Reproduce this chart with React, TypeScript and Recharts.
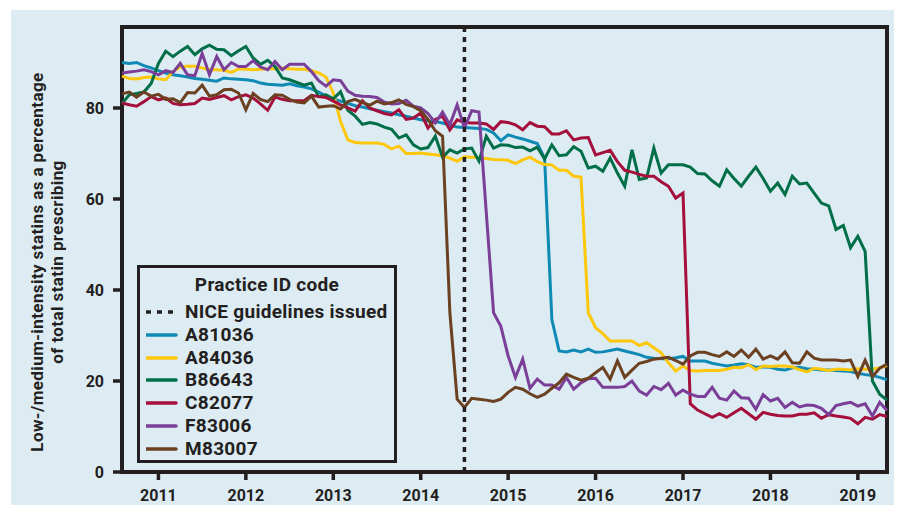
import React from 'react';
import { LineChart, Line, XAxis, YAxis, ReferenceArea, ReferenceLine } from 'recharts';

/* ------------------------------------------------------------------ */
/*  Data: monthly share, Aug 2010 .. May 2019                          */
/* ------------------------------------------------------------------ */

const START = 2010 + 7 / 12; // Aug 2010
const END = 2019 + 4 / 12; // May 2019
const YEAR_TICKS = [2011, 2012, 2013, 2014, 2015, 2016, 2017, 2018, 2019];
const PCT_TICKS = [0, 20, 40, 60, 80];
const Y_MAX = 97.8;
const NICE_DATE = 2014.5;

const A81036 = [
  90.0, 89.8, 90.0, 89.3, 88.8, 88.2, 87.7, 87.3, 87.1, 86.8,
  86.5, 86.3, 86.1, 85.9, 86.6, 86.4, 86.3, 86.2, 86.0, 85.5,
  85.2, 85.1, 85.0, 85.3, 84.9, 84.6, 84.2, 83.5, 82.6, 82.0,
  81.5, 81.0, 80.5, 80.2, 79.8, 79.5, 79.2, 78.9, 78.5, 78.2,
  77.8, 77.4, 77.2, 77.0, 76.7, 76.2, 75.8, 75.7, 75.6, 75.5,
  75.3, 74.5, 72.8, 74.1, 73.6, 73.2, 72.7, 72.2, 69.0, 33.5,
  26.6, 26.4, 26.8, 26.4, 27.0, 26.3, 26.4, 26.7, 27.0, 26.6,
  26.2, 25.8, 25.2, 25.0, 24.9, 24.9, 25.1, 25.4, 24.4, 24.4,
  24.4, 23.9, 23.6, 23.3, 23.5, 23.8, 23.6, 23.0, 23.1, 23.0,
  22.6, 22.4, 22.9, 23.0, 22.7, 22.6, 22.4, 22.4, 22.3, 22.2,
  22.1, 21.7, 21.4, 21.2, 20.8, 20.3,
];

const A84036 = [
  87.0, 86.5, 86.4, 86.7, 86.8, 86.4, 86.2, 88.0, 89.0, 89.2,
  89.2, 88.8, 88.4, 88.4, 88.3, 87.8, 88.6, 88.5, 88.4, 88.5,
  88.6, 88.6, 88.8, 88.6, 88.5, 88.5, 88.2, 87.7, 86.8, 83.3,
  77.0, 73.0, 72.4, 72.3, 72.3, 72.3, 72.0, 71.0, 71.6, 70.0,
  70.0, 70.1, 69.9, 69.7, 69.5, 69.0, 68.3, 69.3, 69.2, 69.0,
  68.9, 68.7, 68.6, 68.5, 67.8, 68.6, 69.2, 68.2, 67.6, 67.5,
  66.3, 66.3, 65.0, 64.8, 35.0, 31.7, 30.4, 28.8, 28.8, 28.8,
  28.8, 27.8, 28.4, 27.3, 26.2, 24.0, 22.2, 23.3, 22.3, 22.2,
  22.3, 22.3, 22.3, 22.6, 23.0, 22.9, 23.6, 22.5, 23.3, 23.2,
  23.3, 23.3, 23.1, 22.5, 22.0, 22.8, 22.6, 22.3, 22.6, 22.6,
  22.4, 22.7, 22.6, 22.6, 22.9, 23.4,
];

const B86643 = [
  81.0, 82.9, 83.2, 83.5, 85.4, 89.8, 92.5, 91.3, 92.5, 93.5,
  91.7, 93.0, 93.8, 92.9, 92.8, 91.5, 92.6, 93.5, 91.0, 89.6,
  90.5, 89.1, 86.6, 86.2, 85.6, 85.0, 85.5, 82.5, 82.9, 82.0,
  83.6, 79.5, 78.2, 76.4, 76.8, 76.5, 75.8, 75.3, 73.4, 74.1,
  71.9, 71.0, 71.3, 73.8, 69.2, 70.8, 70.1, 71.0, 71.2, 68.3,
  73.8, 71.2, 71.9, 71.8, 71.3, 71.4, 70.6, 71.4, 68.8, 71.9,
  69.5, 69.7, 71.5, 70.5, 66.8, 67.2, 66.1, 69.0, 65.7, 62.8,
  70.8, 64.3, 64.6, 71.2, 65.7, 67.5, 67.5, 67.5, 67.0, 65.6,
  65.5, 64.0, 62.8, 66.4, 64.5, 62.8, 65.0, 67.0, 64.5, 61.7,
  63.5, 61.0, 65.0, 63.3, 63.5, 61.3, 59.1, 58.5, 53.3, 54.2,
  49.3, 51.8, 48.5, 20.0, 17.1, 15.8,
];

const C82077 = [
  81.1, 80.7, 80.4, 81.4, 82.5, 81.8, 82.2, 81.0, 80.7, 80.8,
  81.0, 82.2, 81.9, 82.3, 82.7, 81.8, 82.5, 82.9, 82.2, 80.9,
  79.5, 82.4, 81.9, 81.6, 81.6, 81.6, 82.8, 82.5, 82.3, 81.5,
  80.7, 80.0, 79.3, 81.6, 80.0, 79.4, 78.8, 78.5, 79.6, 77.5,
  77.8, 78.9, 75.6, 77.5, 78.2, 75.2, 77.4, 76.8, 76.7, 76.7,
  76.5, 75.3, 77.0, 76.8, 76.3, 75.2, 76.8, 76.0, 75.9, 74.3,
  74.3, 75.0, 73.0, 73.4, 73.5, 69.7, 70.2, 70.7, 68.2, 66.3,
  65.9, 65.4, 65.0, 65.0, 63.8, 62.8, 60.2, 61.3, 15.0, 13.6,
  12.8, 12.0, 12.8, 12.0, 13.0, 14.0, 12.8, 11.6, 13.1, 12.7,
  12.4, 12.3, 12.3, 12.7, 12.7, 13.0, 11.8, 12.6, 12.3, 12.1,
  11.8, 10.6, 12.0, 11.6, 12.6, 12.2,
];

const F83006 = [
  87.7, 87.9, 88.1, 88.4, 88.0, 87.3, 88.2, 87.8, 89.8, 87.3,
  87.1, 92.0, 87.3, 91.3, 88.4, 90.0, 89.1, 89.1, 90.4, 89.0,
  88.4, 90.2, 88.4, 89.6, 89.6, 89.6, 88.0, 86.0, 84.8, 86.2,
  86.0, 83.7, 82.8, 82.6, 82.5, 82.3, 81.3, 80.9, 81.0, 81.7,
  80.4, 80.0, 78.8, 76.7, 79.1, 76.3, 80.7, 75.6, 79.4, 79.1,
  57.0, 35.0, 32.0, 25.5, 20.8, 24.8, 18.4, 20.4, 19.1, 19.1,
  18.2, 20.8, 18.2, 19.6, 20.5, 20.6, 18.6, 18.6, 18.6, 18.8,
  20.0, 17.8, 16.9, 18.8, 18.1, 19.5, 16.9, 18.0, 17.1, 16.6,
  16.6, 18.6, 16.2, 15.8, 17.8, 16.3, 16.2, 13.8, 17.0, 15.6,
  16.2, 14.2, 15.3, 14.3, 14.7, 14.6, 14.0, 12.6, 14.6, 15.0,
  15.3, 14.5, 15.0, 12.3, 15.3, 13.5,
];

const M83007 = [
  83.1, 83.5, 82.4, 83.5, 82.6, 83.0, 81.9, 82.0, 81.2, 83.4,
  83.3, 85.0, 82.6, 82.9, 84.0, 84.1, 83.3, 79.6, 83.2, 81.9,
  81.4, 82.9, 82.8, 81.9, 81.3, 81.1, 82.6, 80.2, 80.4, 80.5,
  79.8, 81.4, 81.9, 81.2, 80.6, 81.5, 80.9, 81.2, 81.8, 80.8,
  80.3, 79.4, 77.5, 75.0, 73.8, 35.0, 16.0, 14.2, 16.2, 16.0,
  15.8, 15.5, 16.0, 17.5, 18.6, 18.2, 17.2, 16.4, 17.1, 18.4,
  19.6, 21.5, 20.8, 20.2, 20.6, 21.8, 23.0, 20.4, 24.4, 20.8,
  22.4, 23.9, 24.3, 24.8, 25.0, 25.2, 24.5, 23.7, 25.5, 26.3,
  26.3, 25.8, 25.4, 26.4, 25.4, 26.8, 25.2, 27.0, 24.8, 25.5,
  24.8, 26.4, 24.0, 23.9, 26.4, 25.0, 24.6, 24.6, 24.6, 24.4,
  24.6, 21.0, 24.6, 21.0, 22.8, 23.7,
];

/* ------------------------------------------------------------------ */
/*  Styling                                                            */
/* ------------------------------------------------------------------ */

const INK = '#231f20';
const BG = '#ddebf3';
const FONT = 'Roboto, "Noto Sans", sans-serif';

const SERIES = [
  { key: 'A81036', color: '#0f8ab5', values: A81036 },
  { key: 'A84036', color: '#fdc70c', values: A84036 },
  { key: 'B86643', color: '#006f47', values: B86643 },
  { key: 'C82077', color: '#a40f3b', values: C82077 },
  { key: 'F83006', color: '#7b3f98', values: F83006 },
  { key: 'M83007', color: '#6b4121', values: M83007 },
];

const data = A81036.map((_, i) => {
  const row: Record<string, number> = { t: START + i / 12 };
  SERIES.forEach((s) => {
    row[s.key] = s.values[i];
  });
  return row;
});

const TICK_STYLE = { fill: INK, fontSize: 16, fontWeight: 700, fontFamily: FONT };

function LegendBox() {
  const rowTop = (centre: number) => centre - 3 - 11;
  return (
    <div
      style={{
        position: 'absolute',
        left: 129,
        top: 257,
        width: 260,
        height: 198,
        boxSizing: 'border-box',
        border: `3.5px solid ${INK}`,
        background: BG,
        color: INK,
        fontFamily: FONT,
        fontWeight: 700,
        fontSize: 19,
        letterSpacing: 0.3,
      }}
    >
      <div style={{ position: 'absolute', top: rowTop(20), left: 0, right: 0, textAlign: 'center', lineHeight: '22px' }}>
        Practice ID code
      </div>
      <div style={{ position: 'absolute', top: rowTop(47), left: 0, height: 22, width: '100%' }}>
        <svg width={34} height={22} style={{ position: 'absolute', left: 6, top: 0 }}>
          <line x1={0} x2={30} y1={11} y2={11} stroke={INK} strokeWidth={3.5} strokeDasharray="5 6" />
        </svg>
        <span style={{ position: 'absolute', left: 45, lineHeight: '22px', whiteSpace: 'nowrap' }}>NICE guidelines issued</span>
      </div>
      {SERIES.map((s, i) => (
        <div key={s.key} style={{ position: 'absolute', top: rowTop(70 + i * 22.7), left: 0, height: 22, width: '100%' }}>
          <svg width={34} height={22} style={{ position: 'absolute', left: 6, top: 0 }}>
            <line x1={0} x2={30} y1={11} y2={11} stroke={s.color} strokeWidth={3.5} strokeLinecap="round" />
          </svg>
          <span style={{ position: 'absolute', left: 45, lineHeight: '22px' }}>{s.key}</span>
        </div>
      ))}
    </div>
  );
}

export default function App() {
  return (
    <div style={{ position: 'relative', zIndex: 0, width: 895, height: 507, fontFamily: FONT }}>
      <div style={{ position: 'absolute', zIndex: -1, left: 3, top: 2, width: 883, height: 495, background: BG }} />
      <LineChart width={895} height={507} data={data} margin={{ top: 19, right: 16, bottom: 13, left: 0 }}>
        <XAxis
          dataKey="t"
          type="number"
          domain={[START, END]}
          ticks={YEAR_TICKS}
          tickFormatter={(v: number) => String(v)}
          axisLine={false}
          tickLine={{ stroke: INK, strokeWidth: 3.5 }}
          tickSize={8}
          tickMargin={10}
          height={30}
          tick={TICK_STYLE}
        />
        <YAxis
          type="number"
          domain={[0, Y_MAX]}
          ticks={PCT_TICKS}
          axisLine={false}
          tickLine={{ stroke: INK, strokeWidth: 3.5 }}
          tickSize={9}
          tickMargin={9}
          width={114}
          tick={TICK_STYLE}
        />
        <ReferenceArea
          x1={START}
          x2={END}
          y1={0}
          y2={Y_MAX}
          fill="none"
          fillOpacity={0}
          stroke={INK}
          strokeWidth={4}
          ifOverflow="visible"
        />
        {SERIES.map((s) => (
          <Line
            key={s.key}
            dataKey={s.key}
            name={s.key}
            type="linear"
            stroke={s.color}
            strokeWidth={3}
            dot={false}
            activeDot={false}
            isAnimationActive={false}
          />
        ))}
        <ReferenceLine x={NICE_DATE} stroke={INK} strokeWidth={3.5} strokeDasharray="5 5" />
      </LineChart>
      <div
        style={{
          position: 'absolute',
          left: 39,
          top: 254,
          transform: 'translate(-50%, -50%) rotate(-90deg)',
          whiteSpace: 'nowrap',
          textAlign: 'center',
          color: INK,
          fontWeight: 700,
          fontSize: 17,
          letterSpacing: 0.4,
          lineHeight: '20px',
        }}
      >
        Low-/medium-intensity statins as a percentage
        <br />
        of total statin prescribing
      </div>
      <LegendBox />
    </div>
  );
}
